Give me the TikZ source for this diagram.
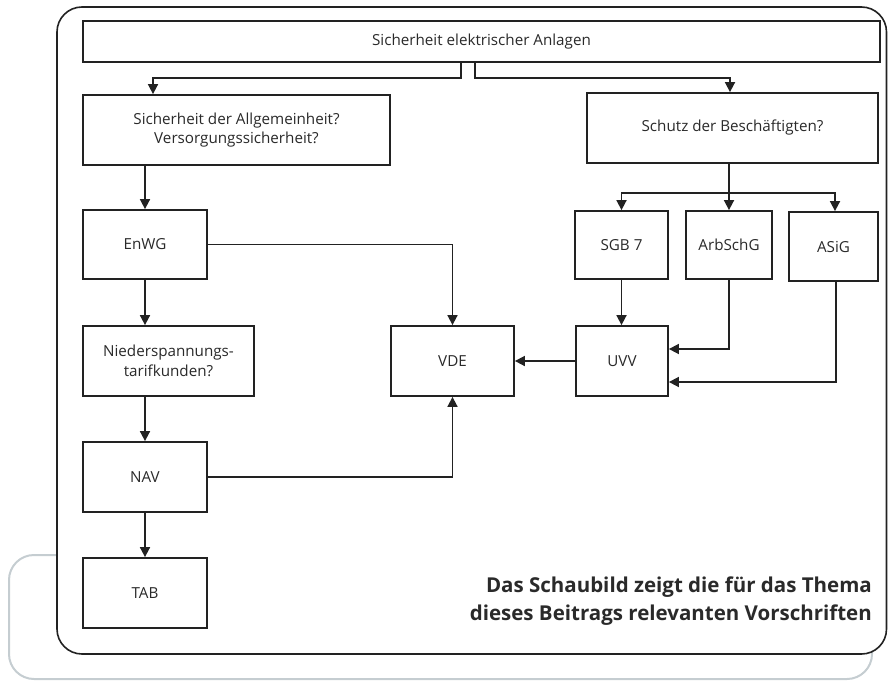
\documentclass[tikz,border=0pt]{standalone}
\usepackage{fontspec}
\setmainfont{Open Sans}
\usetikzlibrary{arrows.meta}
\definecolor{ln}{HTML}{222222}
\definecolor{txt}{HTML}{2A2A2A}
\definecolor{grayframe}{HTML}{C5CDD1}
\tikzset{
  box/.style={draw=ln, line width=1.8pt, fill=white, inner sep=0pt, align=center,
    font=\fontsize{15.2}{19.5}\selectfont, text=txt},
  arr/.style={draw=ln, line width=1.7pt, -{Triangle[width=10pt,length=10pt]}},
  ln/.style={draw=ln, line width=1.7pt},
}
\begin{document}
\begin{tikzpicture}[x=1pt,y=-1pt]
\useasboundingbox (0,0) rectangle (888,682);
% frames
\draw[grayframe, line width=2pt, rounded corners=25pt] (9,555) rectangle (872,679);
\draw[ln, line width=1.6pt, fill=white, rounded corners=25pt] (57,7) rectangle (886.5,654);
% nodes
\node[box, minimum width=797pt, minimum height=41pt] (top) at (481.5,41.5) {Sicherheit elektrischer Anlagen};
\node[box, minimum width=307pt, minimum height=70pt] (allg) at (236.5,130) {Sicherheit der Allgemeinheit?\\Versorgungssicherheit?};
\node[box, minimum width=291pt, minimum height=70pt] (schutz) at (732.5,128) {Schutz der Beschäftigten?};
\node[box, minimum width=124pt, minimum height=69pt] (enwg) at (145,244.5) {EnWG};
\node[box, minimum width=171pt, minimum height=70pt] (nied) at (168.5,361) {Niederspannungs-\\tarifkunden?};
\node[box, minimum width=124pt, minimum height=70pt] (nav) at (145,477) {NAV};
\node[box, minimum width=124pt, minimum height=70pt] (tab) at (145,593) {TAB};
\node[box, minimum width=123pt, minimum height=70pt] (vde) at (452.5,361) {VDE};
\node[box, minimum width=92pt, minimum height=70pt] (uvv) at (622,361) {UVV};
\node[box, minimum width=93pt, minimum height=68pt] (sgb) at (621.5,245) {SGB 7};
\node[box, minimum width=86pt, minimum height=68pt] (arb) at (729,245) {ArbSchG};
\node[box, minimum width=89pt, minimum height=69pt] (asig) at (833.5,246.5) {ASiG};
\coordinate (br) at (729,193);
% connectors
\draw[arr] ([xshift=-20.5pt]top.south) -- ++(0,15) -| ([xshift=-83.5pt]allg.north);
\draw[arr] ([xshift=-6.5pt]top.south) -- ++(0,15) -| ([xshift=-2.5pt]schutz.north);
\draw[arr] (allg.south -| enwg.north) -- (enwg.north);
\draw[arr] (enwg.south) -- (enwg.south |- nied.north);
\draw[arr] (nied.south -| nav.north) -- (nav.north);
\draw[arr] (nav.south) -- (tab.north);
\draw[arr] (enwg.east) -| (vde.north);
\draw[arr] (nav.east) -| (vde.south);
\draw[arr] (uvv.west) -- (vde.east);
\draw[arr] (schutz.south -| arb.north) -- (arb.north);
\draw[arr] (br) -| (sgb.north);
\draw[arr] (br) -| ([xshift=1.5pt]asig.north);
\draw[arr] (sgb.south) -- (sgb.south |- uvv.north);
\draw[arr] (arb.south) |- ([yshift=12pt]uvv.east);
\draw[arr] ([xshift=2.5pt]asig.south) |- ([yshift=-21pt]uvv.east);
% caption
\node[anchor=north east, align=right, inner sep=0pt, text=txt,
  font=\bfseries\fontsize{20.5}{28}\selectfont] (cap) at (872,577)
  {Das Schaubild zeigt die für das Thema\\dieses Beitrags relevanten Vorschriften};
\end{tikzpicture}
\end{document}
